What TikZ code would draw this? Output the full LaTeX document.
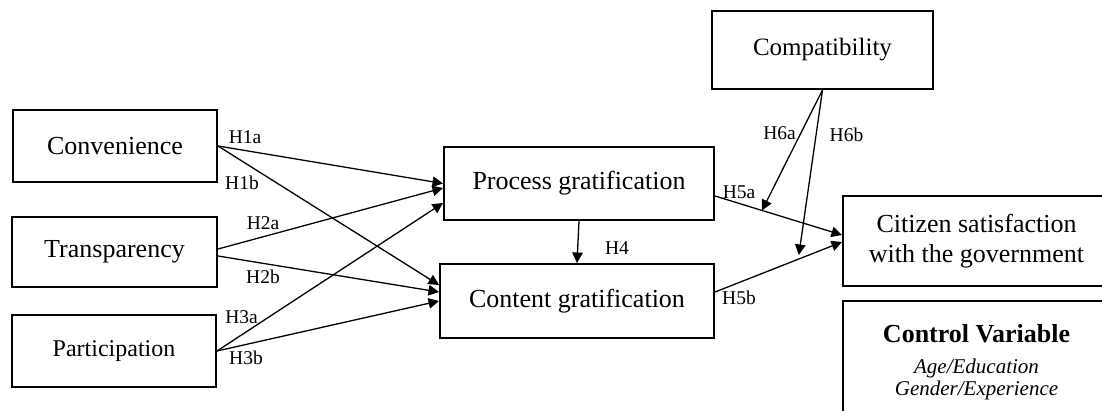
\documentclass[tikz,border=0pt]{standalone}
\usepackage{fontspec}
\setmainfont{Liberation Serif}
\usetikzlibrary{arrows.meta, positioning, calc}

\begin{document}
\begin{tikzpicture}[x=1pt, y=-1pt,
  var/.style={rectangle, draw=black, line width=2pt, inner sep=0pt,
    align=center, font=\fontsize{26}{30}\selectfont},
  hyp/.style={inner sep=0pt, font=\fontsize{19.5}{22}\selectfont},
  arr/.style={-{Triangle[length=10.5pt, width=10.5pt]}, line width=1.3pt},
]
\useasboundingbox (0,0) rectangle (1102,410);
\clip (0,0) rectangle (1102,410);
% antecedents
\node[var, minimum width=204pt, minimum height=72pt] (conv)  at (115,146) {Convenience};
\node[var, minimum width=205pt, minimum height=70pt] (trans) at (114.5,252) {Transparency};
\node[var, minimum width=204pt, minimum height=72pt,
  font=\fontsize{24}{28}\selectfont] (part) at (114,351) {Participation};
% gratifications
\node[var, minimum width=270pt, minimum height=73pt] (proc) at (579,183.5) {Process gratification};
\node[var, minimum width=274pt, minimum height=74pt] (cont) at (577,301) {Content gratification};
% moderator and outcome
\node[var, minimum width=221pt, minimum height=78pt,
  font=\fontsize{25}{29}\selectfont] (compat) at (822.5,50) {Compatibility};
\node[var, minimum width=267pt, minimum height=90pt] (sat) at (976.5,241)
  {Citizen satisfaction\\with the government};
\node[var, minimum width=267pt, minimum height=122pt,
  font=\fontsize{21}{22}\selectfont] (ctrl) at (976.5,362)
  {{\fontsize{26}{30}\selectfont\bfseries Control Variable}\\[9pt]
   \itshape Age/Education\\ \itshape Gender/Experience};
% paths
\draw[arr] (conv.east) -- (proc.west);
\draw[arr] (conv.east) -- ([yshift=16pt]cont.west);
\draw[arr] ([yshift=3pt]trans.east) -- ([yshift=-4.5pt]proc.west);
\draw[arr] ([yshift=-4pt]trans.east) -- ([yshift=9pt]cont.west);
\draw[arr] (part.east) -- ([yshift=-19.5pt]proc.west);
\draw[arr] (part.east) -- (cont.west);
\draw[arr] (proc.south) -- (cont.north);
\draw[arr] ([yshift=-12.5pt]proc.east) -- coordinate[pos=0.37] (on5a) ([yshift=6pt]sat.west);
\draw[arr] ([yshift=9pt]cont.east) -- coordinate[pos=0.66] (on5b) ([yshift=-1pt]sat.west);
\draw[arr] (compat.south) -- (on5a);
\draw[arr] (compat.south) -- ([yshift=4pt]on5b);
% hypothesis labels
\node[hyp] (h1a) at (245,137) {H1a};
\node[hyp] (h1b) at (242,183) {H1b};
\node[hyp] (h2a) at (263,223) {H2a};
\node[hyp] (h2b) at (263,277) {H2b};
\node[hyp] (h3a) at (241.5,317) {H3a};
\node[hyp] (h3b) at (246,358) {H3b};
\node[hyp] (h4)  at (617,248) {H4};
\node[hyp] (h5a) at (739,192) {H5a};
\node[hyp] (h5b) at (739,298) {H5b};
\node[hyp] (h6a) at (779.5,133.5) {H6a};
\node[hyp] (h6b) at (846.5,135) {H6b};
\end{tikzpicture}
\end{document}
